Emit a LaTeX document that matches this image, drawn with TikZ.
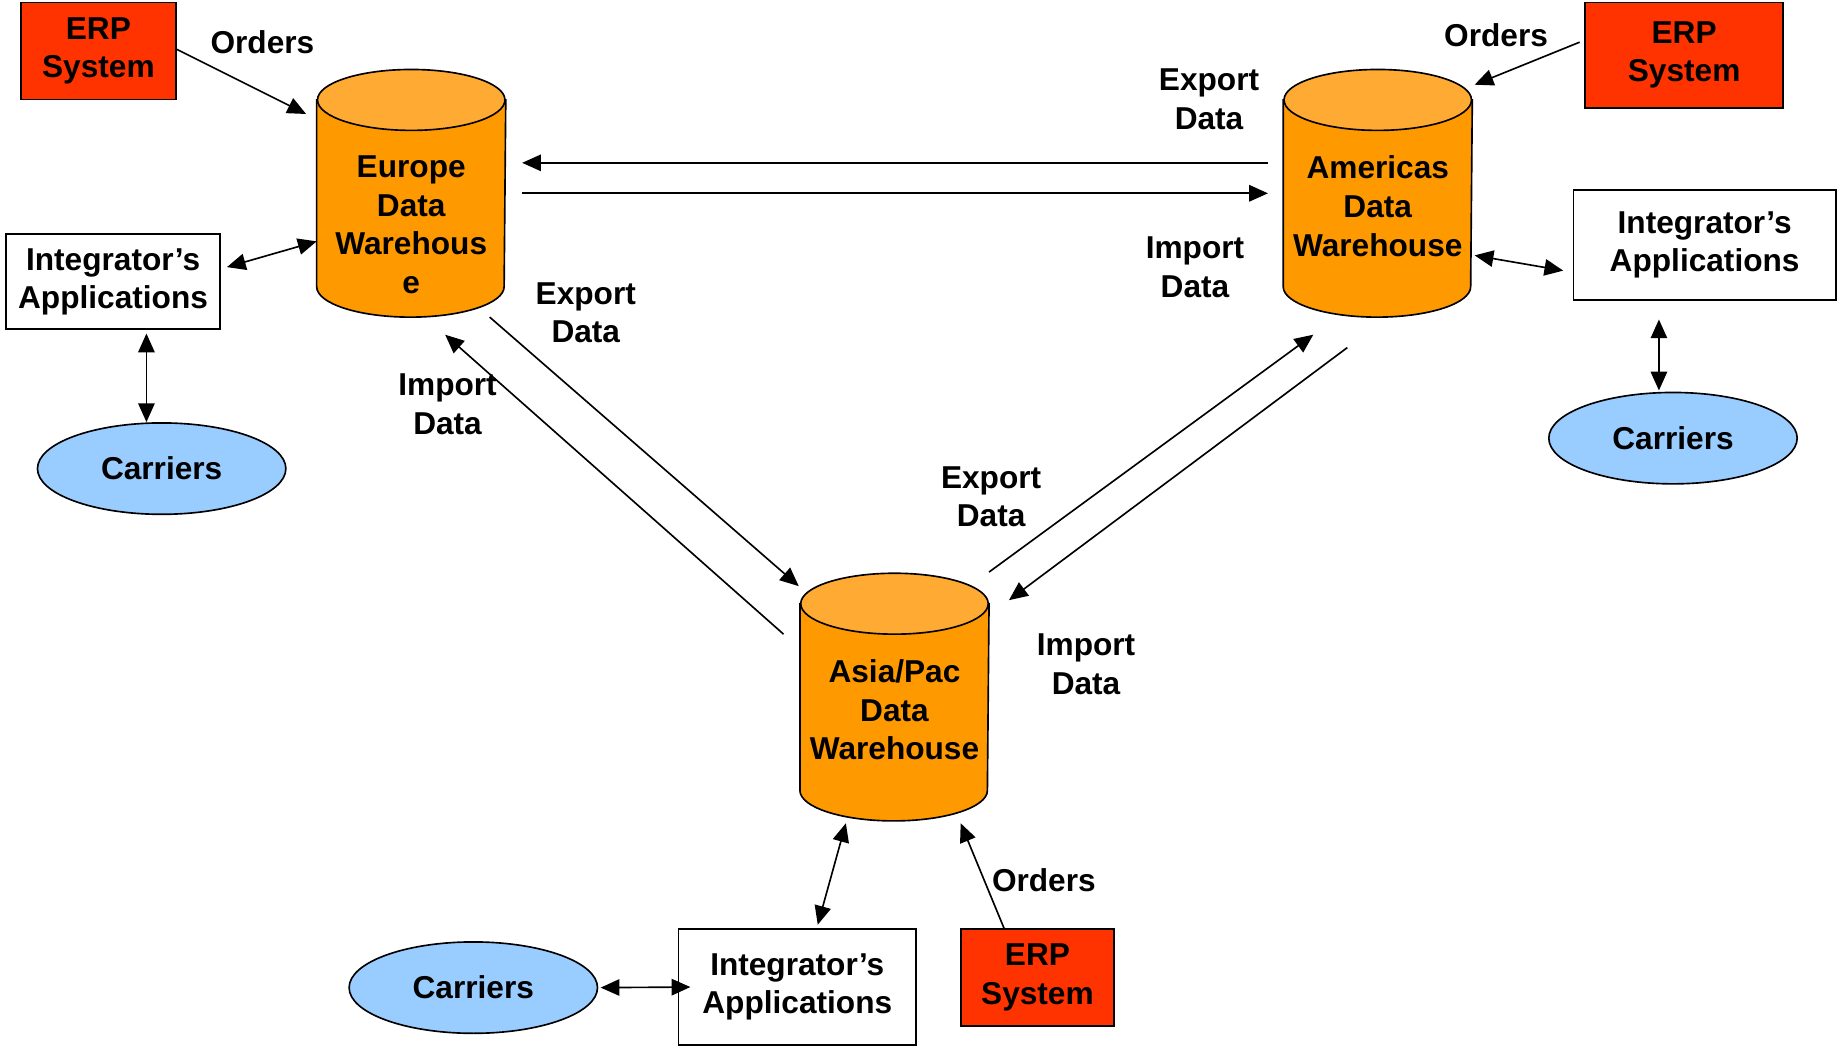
\documentclass[tikz,border=0pt]{standalone}
\usepackage{fontspec}
\setmainfont{Liberation Sans}
\usetikzlibrary{arrows.meta,shapes.geometric}
\definecolor{erpred}{HTML}{FF3300}
\definecolor{dwbody}{HTML}{FF9900}
\definecolor{dwtop}{HTML}{FFAA33}
\definecolor{carblue}{HTML}{99CCFF}

\newcommand\warehouse[3]{%
  \node[dwspace] (#1) at (#2) {};
  \filldraw[fill=dwbody] ([yshift=-13pt]#1.north west) -- ([yshift=13pt]#1.south west)
    arc[start angle=180, end angle=360, x radius=40pt, y radius=13pt]
    -- ([yshift=-13pt]#1.north east) -- cycle;
  \filldraw[fill=dwtop] ([yshift=-13pt]#1.north) ellipse [x radius=40pt, y radius=13pt];
  \node[dwtext] at ([yshift=-36.5pt]#1.north) {#3};
}

\begin{document}
\begin{tikzpicture}[
        x=0.5pt, y=-0.5pt,
        line width=0.7pt,
        txt/.style={font=\bfseries\fontsize{13.5}{16.5}\selectfont, align=center},
        erp/.style={txt, draw, fill=erpred, inner sep=0pt},
        integ/.style={txt, draw, fill=white, inner sep=0pt},
        carrier/.style={txt, draw, ellipse, fill=carblue, inner sep=0pt,
            minimum width=106pt, minimum height=39pt},
        dwspace/.style={minimum width=80pt, minimum height=105pt, inner sep=0pt},
        dwtext/.style={txt, anchor=north, inner sep=0pt},
        lbl/.style={txt, inner sep=0pt},
        flow/.style={-{Triangle[length=8pt,width=7pt]}},
        both/.style={{Triangle[length=8pt,width=7pt]}-{Triangle[length=8pt,width=7pt]}}
    ]
    \useasboundingbox (0,0) rectangle (1568,893);

    % warehouses
    \warehouse{dwEU}{351,165}{Europe\\Data\\Warehous\\e}
    \warehouse{dwAM}{1176,165}{Americas\\Data\\Warehouse}
    \warehouse{dwAP}{763.5,595}{Asia/Pac\\Data\\Warehouse}

    % Europe side
    \node[erp, minimum width=66pt, minimum height=41.5pt] (erpEU) at (84,43.5) {ERP\\System};
    \node[integ, minimum width=91.5pt, minimum height=40.5pt] (intEU) at (96.5,240.5) {Integrator’s\\Applications};
    \node[carrier] (carEU) at (138,400) {Carriers};
    \node[lbl] at (224,36) {Orders};

    % Americas side
    \node[erp, minimum width=84.5pt, minimum height=45pt] (erpAM) at (1437.5,47) {ERP\\System};
    \node[integ, minimum width=112pt, minimum height=47pt] (intAM) at (1455,209) {Integrator’s\\Applications};
    \node[carrier] (carAM) at (1428,374) {Carriers};
    \node[lbl] at (1277,30) {Orders};

    % Asia/Pac side
    \node[erp, minimum width=65.5pt, minimum height=41.5pt] (erpAP) at (885.5,834.5) {ERP\\System};
    \node[integ, minimum width=101.5pt, minimum height=49.5pt] (intAP) at (680.5,842.5) {Integrator’s\\Applications};
    \node[carrier] (carAP) at (404,843) {Carriers};
    \node[lbl] at (891,751) {Orders};

    % data labels
    \node[lbl] at (1032,85) {Export\\Data};
    \node[lbl] at (1020,228) {Import\\Data};
    \node[lbl] at (500,267) {Export\\Data};
    \node[lbl] at (382,345) {Import\\Data};
    \node[lbl] at (846,424) {Export\\Data};
    \node[lbl] at (927,567) {Import\\Data};

    % orders
    \draw[flow] ([yshift=0.75pt]erpEU.east) -- ([shift={(-9,38)}]dwEU.north west);
    \draw[flow] ([shift={(-4,-11)}]erpAM.west) -- ([shift={(2,13)}]dwAM.north east);
    \draw[flow] ([xshift=-14.25pt]erpAP.north) -- ([shift={(56.5,2)}]dwAP.south);

    % integrators and carriers
    \draw[both] ([shift={(5,-12.5)}]intEU.east) -- ([yshift=-20.5pt]dwEU.west);
    \draw[both] ([shift={(28.5,3)}]intEU.south) -- ([xshift=-6.5pt]carEU.north);
    \draw[both] ([shift={(2,53)}]dwAM.east) -- ([shift={(-8,22)}]intAM.west);
    \draw[both] ([shift={(-39,16)}]intAM.south) -- ([shift={(-12,-1)}]carAM.north);
    \draw[both] ([shift={(-41.5,2)}]dwAP.south) -- ([shift={(17.5,-3)}]intAP.north);
    \draw[both] ([xshift=1pt]carAP.east) -- ([xshift=5.5pt]intAP.west);

    % data flows
    \draw[flow] ([shift={(-13,-26)}]dwAM.west) -- ([shift={(14,-26)}]dwEU.east);
    \draw[flow] ([xshift=7pt]dwEU.east) -- ([xshift=-6.5pt]dwAM.west);
    \draw[flow] ([xshift=33.5pt]dwEU.south) -- ([shift={(-1,11)}]dwAP.north west);
    \draw[flow] ([shift={(-14,52)}]dwAP.north west) -- ([shift={(29,15)}]dwEU.south);
    \draw[flow] ([yshift=0.5pt]dwAP.north east) -- ([shift={(-55,15)}]dwAM.south);
    \draw[flow] ([shift={(-26,26)}]dwAM.south) -- ([shift={(17,23)}]dwAP.north east);
\end{tikzpicture}
\end{document}
